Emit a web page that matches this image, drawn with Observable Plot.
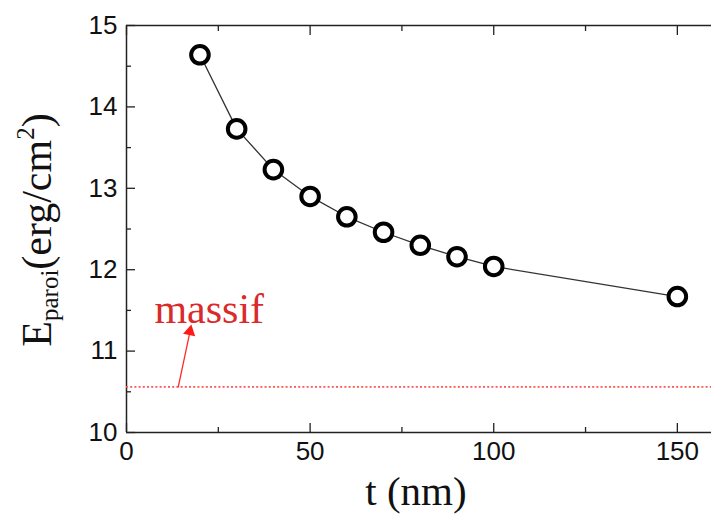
<!DOCTYPE html>
<html>
<head>
<meta charset="utf-8">
<script src="https://cdn.jsdelivr.net/npm/d3@7"></script>
<script src="https://cdn.jsdelivr.net/npm/@observablehq/plot@0.6"></script>
<style>
  html, body { margin: 0; padding: 0; background: #fff; }
  #chart svg { display: block; }
</style>
</head>
<body>
<div id="chart"></div>
<script>
// Data
const thickness = [20, 30, 40, 50, 60, 70, 80, 90, 100, 150];
const energy = [14.64, 13.73, 13.23, 12.90, 12.65, 12.46, 12.30, 12.16, 12.04, 11.67];
const bulkValue = [10.56];
const bulkLabel = ["massif"];
const labelPos = { x: [7.6], y: [11.345] };
const arrowFrom = { x: [14.1], y: [10.56] };
const arrowTo = { x: [17.1], y: [11.2] };
const arrowTip = { x: [17.25], y: [11.24] };
const xTicks = [0, 50, 100, 150];
const xMinor = [25, 75, 125];
const yTicks = [10, 11, 12, 13, 14, 15];
const yMinor = [10.5, 11.5, 12.5, 13.5, 14.5];
const xLabel = "t (nm)";

const pts = thickness.map((t, i) => ({ t, e: energy[i] }));
const axisColor = "#222";
const fmt = d3.format("d");

const plot = Plot.plot({
  width: 711,
  height: 517,
  marginLeft: 126,
  marginRight: 0,
  marginTop: 25,
  marginBottom: 85,
  style: { fontFamily: "'Liberation Sans', Arial, sans-serif", color: "#111", background: "#fff" },
  x: { domain: [0, 159.3], label: null },
  y: { domain: [10, 15], label: null },
  marks: [
    // frame lines
    Plot.ruleX([0], { stroke: axisColor, strokeWidth: 1.5 }),
    Plot.ruleY([15], { stroke: axisColor, strokeWidth: 1.5 }),
    Plot.ruleY([10], { stroke: axisColor, strokeWidth: 1.5 }),
    // inward ticks
    Plot.axisY(yTicks, { anchor: "left", tickSize: -9, text: null, label: null, stroke: axisColor, strokeWidth: 1.3 }),
    Plot.axisY(yMinor, { anchor: "left", tickSize: -5, text: null, label: null, stroke: axisColor, strokeWidth: 1.3 }),
    Plot.axisX(xTicks, { anchor: "bottom", tickSize: -9, text: null, label: null, stroke: axisColor, strokeWidth: 1.3 }),
    Plot.axisX(xMinor, { anchor: "bottom", tickSize: -5, text: null, label: null, stroke: axisColor, strokeWidth: 1.3 }),
    Plot.axisX(xTicks, { anchor: "top", tickSize: -9, text: null, label: null, stroke: axisColor, strokeWidth: 1.3 }),
    Plot.axisX(xMinor, { anchor: "top", tickSize: -5, text: null, label: null, stroke: axisColor, strokeWidth: 1.3 }),
    // tick labels
    Plot.axisY(yTicks, { anchor: "left", tickSize: 0, tickPadding: 9, fontSize: 26, label: null, tickFormat: fmt, fill: "#111" }),
    Plot.axisX(xTicks, { anchor: "bottom", tickSize: 0, tickPadding: 9, fontSize: 26, label: null, tickFormat: fmt, fill: "#111" }),
    // bulk reference line
    Plot.ruleY(bulkValue, { stroke: "#ff5555", strokeWidth: 1.6, strokeDasharray: "2,2.2" }),
    Plot.arrow({ length: 1 }, {
      x1: () => arrowFrom.x[0], y1: () => arrowFrom.y[0],
      x2: () => arrowTo.x[0], y2: () => arrowTo.y[0],
      stroke: "#ff2a2a", strokeWidth: 1.3, headLength: 0
    }),
    Plot.dot({ length: 1 }, {
      x: () => arrowTip.x[0], y: () => arrowTip.y[0],
      symbol: "triangle", r: 4.6, fill: "#ff1a1a", stroke: "none", rotate: 12
    }),
    Plot.text(bulkLabel, {
      x: () => labelPos.x[0], y: () => labelPos.y[0], text: d => d,
      textAnchor: "start", lineAnchor: "bottom", fontSize: 42,
      fontFamily: "'Liberation Serif', 'Times New Roman', serif", fill: "#d92b2b"
    }),
    // data
    Plot.line(pts, { x: "t", y: "e", stroke: "#333", strokeWidth: 1.3 }),
    Plot.dot(pts, { x: "t", y: "e", r: 8.8, stroke: "#000", strokeWidth: 4, fill: "#fff" })
  ]
});

document.getElementById("chart").appendChild(plot);

// Axis titles (serif, with subscript / superscript)
const svg = d3.select(plot);
const serif = "'Liberation Serif', 'Times New Roman', serif";
const yl = svg.append("text")
  .attr("transform", "translate(51,230) rotate(-90)")
  .attr("text-anchor", "middle")
  .attr("font-family", serif)
  .attr("font-size", 42)
  .attr("fill", "#111");
yl.append("tspan").text("E");
yl.append("tspan").attr("font-size", 25).attr("dy", 7).text("paroi");
yl.append("tspan").attr("dy", -7).text("(erg/cm");
yl.append("tspan").attr("font-size", 25).attr("dy", -17).text("2");
yl.append("tspan").attr("dy", 17).text(")");

svg.append("text")
  .attr("x", 416)
  .attr("y", 505)
  .attr("text-anchor", "middle")
  .attr("font-family", serif)
  .attr("font-size", 41)
  .attr("fill", "#111")
  .text(xLabel);
</script>
</body>
</html>
